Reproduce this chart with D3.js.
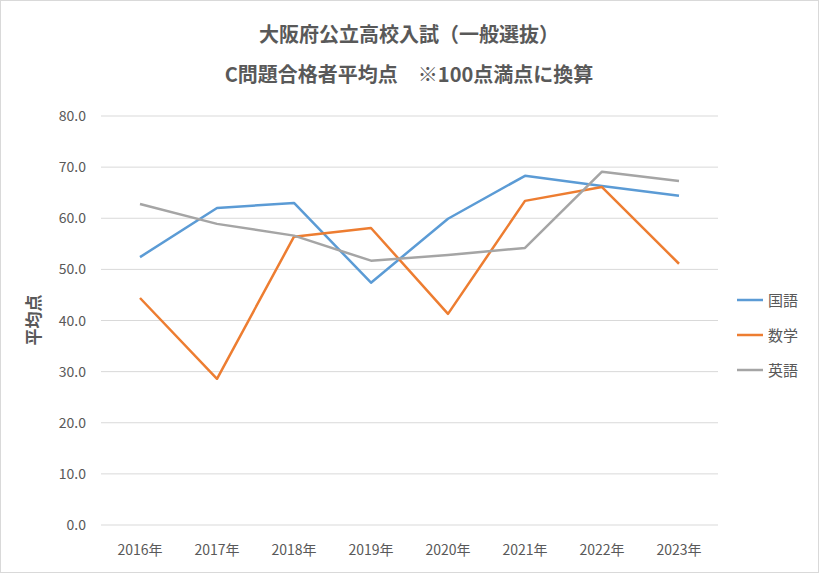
<!DOCTYPE html>
<html><head><meta charset="utf-8">
<script src="https://cdn.jsdelivr.net/npm/d3@7"></script>
<style>body{margin:0;background:#fff;font-family:"Noto Sans CJK JP","Noto Sans",sans-serif;}</style>
</head><body>
<svg id="chart" width="819" height="573"></svg>
<script>
// data
var years = ["2016年","2017年","2018年","2019年","2020年","2021年","2022年","2023年"];
var kokugo = [52.4, 62.0, 63.0, 47.4, 59.9, 68.3, 66.3, 64.4];
var sugaku = [44.4, 28.6, 56.4, 58.1, 41.3, 63.4, 66.1, 51.1];
var eigo   = [62.8, 58.9, 56.6, 51.7, 52.8, 54.2, 69.1, 67.3];
var seriesNames = ["国語","数学","英語"];
var colors = ["#5b9bd5","#ed7d31","#a5a5a5"];
var yTicks = [0,10,20,30,40,50,60,70,80];

var svg = d3.select("#chart");
svg.append("rect").attr("x",0.5).attr("y",0.5).attr("width",818).attr("height",572)
  .attr("fill","#fff").attr("stroke","#d9d9d9");

// plot area bounds ("top" is reserved on window, so use other names)
var plotL = 101, plotR = 718, plotT = 116, plotB = 525;
var x = d3.scalePoint().domain(years).range([140, 679]);
var y = d3.scaleLinear().domain([0,80]).range([plotB, plotT]);

// gridlines
svg.append("g").selectAll("line").data(yTicks).join("line")
  .attr("x1",plotL).attr("x2",plotR)
  .attr("y1",d=>y(d)).attr("y2",d=>y(d))
  .attr("stroke","#d9d9d9").attr("stroke-width",1);

// y labels
svg.append("g").selectAll("text").data(yTicks).join("text")
  .attr("x",86).attr("y",d=>y(d)+5).attr("text-anchor","end")
  .attr("font-size",14).attr("fill","#595959").text(d=>d.toFixed(1));

// x labels
svg.append("g").selectAll("text").data(years).join("text")
  .attr("x",d=>x(d)).attr("y",555).attr("text-anchor","middle")
  .attr("font-size",14).attr("fill","#595959").text(d=>d);

// lines
var line = d3.line().x((d,i)=>x(years[i])).y(d=>y(d));
[kokugo, sugaku, eigo].forEach(function(s,i){
  svg.append("path").datum(s).attr("d",line).attr("fill","none")
    .attr("stroke",colors[i]).attr("stroke-width",2.5).attr("stroke-linejoin","round");
});

// legend
seriesNames.forEach(function(n,i){
  var ly = 300 + i*35;
  svg.append("line").attr("x1",737).attr("x2",763).attr("y1",ly).attr("y2",ly)
    .attr("stroke",colors[i]).attr("stroke-width",2.5);
  svg.append("text").attr("x",768).attr("y",ly+6).attr("font-size",15)
    .attr("fill","#595959").text(n);
});

// titles
svg.append("text").attr("x",409).attr("y",42).attr("text-anchor","middle")
  .attr("font-size",20).attr("font-weight","bold").attr("fill","#595959")
  .text("大阪府公立高校入試（一般選抜）");
svg.append("text").attr("x",409).attr("y",82).attr("text-anchor","middle")
  .attr("font-size",20).attr("font-weight","bold").attr("fill","#595959")
  .attr("xml:space","preserve").text("C問題合格者平均点　※100点満点に換算");
svg.append("text").attr("transform","translate(40,320) rotate(-90)")
  .attr("text-anchor","middle").attr("font-size",17).attr("font-weight","bold")
  .attr("fill","#595959").text("平均点");
</script>
</body></html>
